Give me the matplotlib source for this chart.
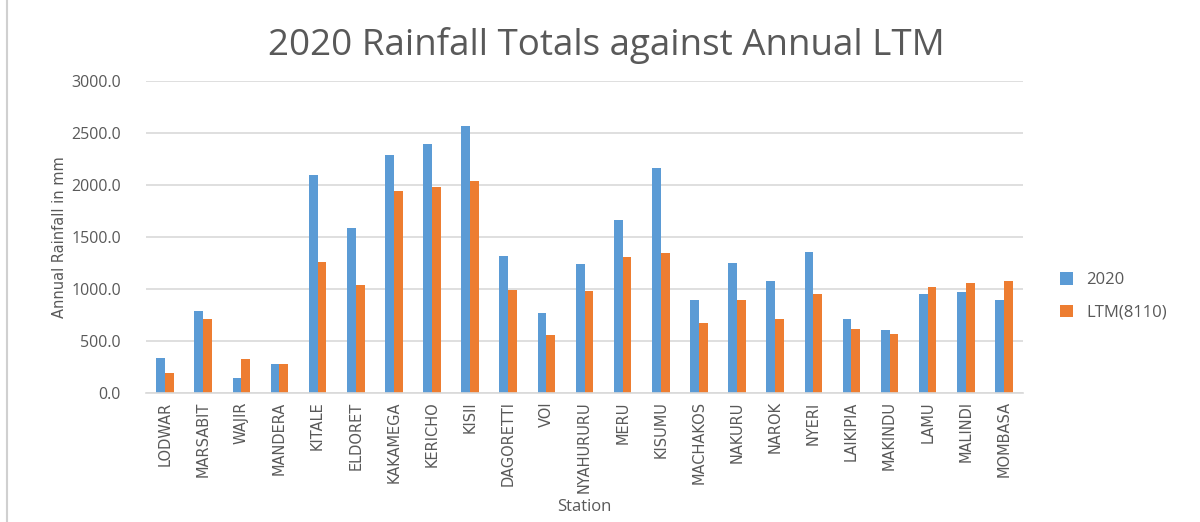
import matplotlib.pyplot as plt
import numpy as np
from matplotlib.lines import Line2D

stations = [
    "LODWAR", "MARSABIT", "WAJIR", "MANDERA", "KITALE", "ELDORET", "KAKAMEGA",
    "KERICHO", "KISII", "DAGORETTI", "VOI", "NYAHURURU", "MERU", "KISUMU",
    "MACHAKOS", "NAKURU", "NAROK", "NYERI", "LAIKIPIA", "MAKINDU", "LAMU",
    "MALINDI", "MOMBASA",
]
rain_2020 = [337, 786, 141, 276, 2101, 1591, 2284, 2393, 2563, 1322, 773, 1238,
             1662, 2162, 898, 1251, 1081, 1360, 715, 603, 956, 969, 898]
rain_ltm = [192, 715, 324, 276, 1264, 1043, 1944, 1983, 2040, 991, 555, 982,
            1309, 1347, 677, 898, 715, 956, 619, 568, 1017, 1056, 1081]
yticks = [0, 500, 1000, 1500, 2000, 2500, 3000]

BLUE = "#5B9BD5"
ORANGE = "#ED7D31"
TEXT = "#595959"
narrow = ["Liberation Sans Narrow", "DejaVu Sans"]

fig = plt.figure(figsize=(12, 5.22), dpi=100)
ax = fig.add_axes([0.1217, 0.2471, 0.7308, 0.5977])

x = np.arange(len(stations))
w = 0.23
ax.bar(x - w / 2, rain_2020, w, color=BLUE, label="2020", zorder=2)
ax.bar(x + w / 2, rain_ltm, w, color=ORANGE, label="LTM(8110)", zorder=2)

ax.set_xlim(-0.5, len(stations) - 0.5)
ax.set_ylim(0, 3000)
ax.set_yticks(yticks)
ax.set_yticklabels([f"{v:.1f}" for v in yticks], color=TEXT, fontsize=11.5,
                   family="Open Sans")
ax.set_xticks(x)
ax.set_xticklabels(stations, rotation=90, color=TEXT, fontsize=10.5, family=narrow)
ax.tick_params(axis="x", length=0, pad=6)
ax.tick_params(axis="y", length=0, pad=18)
ax.grid(axis="y", color="#D9D9D9", linewidth=1.2, zorder=0)
for s in ["top", "right", "left"]:
    ax.spines[s].set_visible(False)
ax.spines["bottom"].set_color("#D9D9D9")
ax.spines["bottom"].set_linewidth(1.2)

ax.set_ylabel("Annual Rainfall in mm", color=TEXT, fontsize=10.5, family=narrow,
              labelpad=3)
ax.set_xlabel("Station", color=TEXT, fontsize=12, family="Open Sans", labelpad=4)
fig.text(0.505, 0.912, "2020 Rainfall Totals against Annual LTM", ha="center",
         va="center", color=TEXT, fontsize=26.5, family="Open Sans")

leg = ax.legend(loc="center left", bbox_to_anchor=(1.025, 0.31), frameon=False,
                handlelength=0.8, handleheight=0.8, labelspacing=1.0,
                prop={"family": "Open Sans", "size": 12})
for t in leg.get_texts():
    t.set_color(TEXT)

fig.add_artist(Line2D([0.006, 0.006], [0, 1], color="#D0D0D0", linewidth=1.5,
                      transform=fig.transFigure))

fig.savefig("out.png", dpi=100)
